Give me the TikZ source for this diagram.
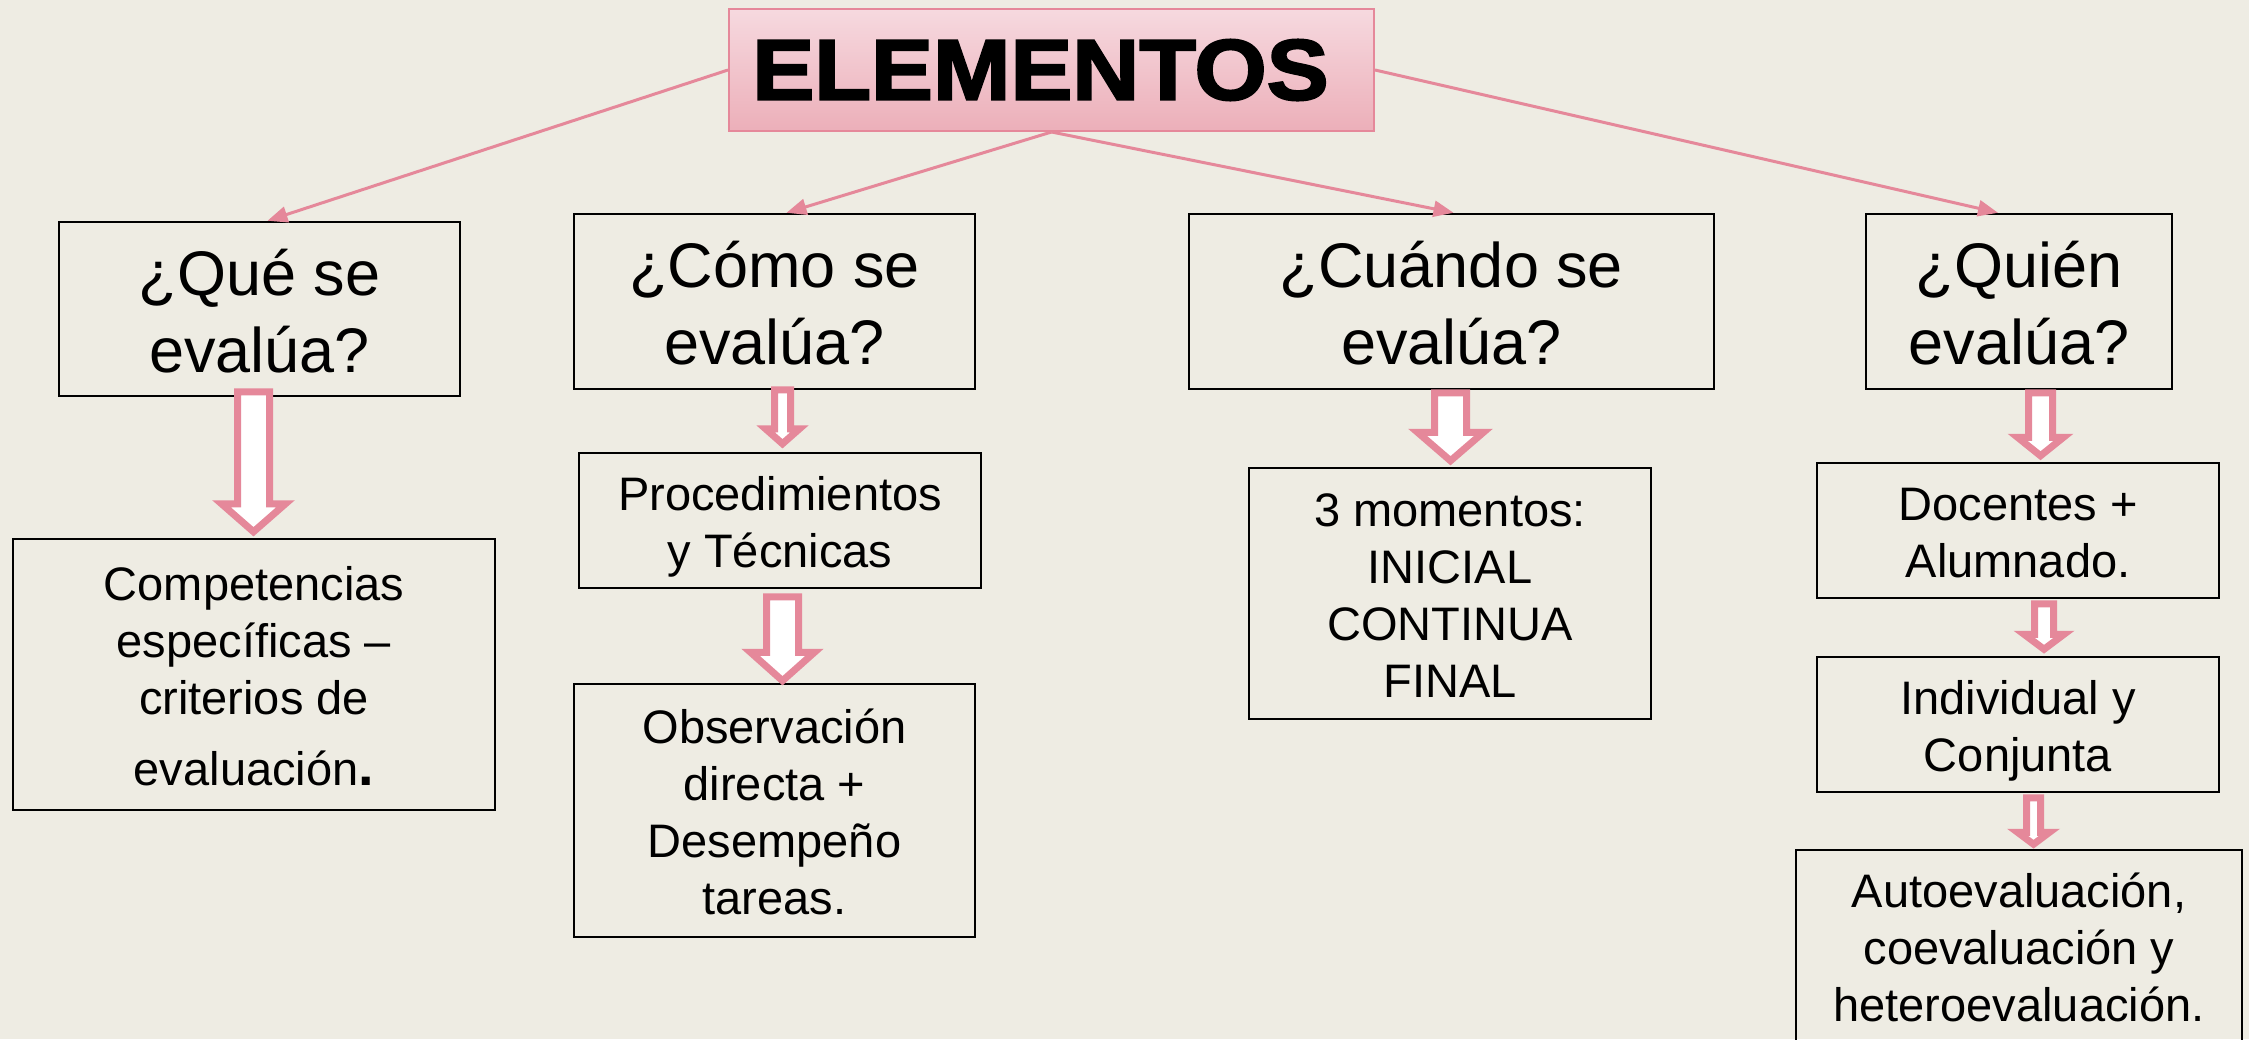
\documentclass[tikz,border=0pt]{standalone}
\usepackage{fontspec}
\setmainfont{Liberation Sans}
\newfontfamily\titlefont[FakeStretch=1.08,BoldFeatures={FakeBold=2.5}]{Liberation Sans}
\usetikzlibrary{arrows.meta,calc}
\definecolor{bg}{HTML}{EEECE3}
\definecolor{pk}{HTML}{E5889A}
\definecolor{pktop}{HTML}{F6D9DF}
\definecolor{pkbot}{HTML}{ECAFB9}
\newcommand\qS{\rule{0pt}{0.79em}}
\newcommand\tS{\rule{0pt}{1.0em}}
\newcommand\bS{\rule[-0.21em]{0pt}{0.21em}}
\tikzset{
  box/.style={draw=black, line width=2.5pt, inner sep=0pt, align=center, text=black},
  qbox/.style={box, font=\fontsize{63}{77}\selectfont},
  sbox/.style={box, font=\fontsize{47}{57}\selectfont},
  link/.style={draw=pk, line width=3pt, -{Triangle[length=20pt,width=16pt]}},
  blk/.style={draw=pk, fill=white, line width=7pt, line join=miter, miter limit=10},
}
% block arrow: from, to, centre x, shaft half width, head half width, head height, top offset, tip offset
\newcommand\barr[8]{%
  \draw[blk] let \p1=(#1.south), \p2=(#2.north) in
    ({#3pt-#4pt},{\y1-#7pt}) -- ({#3pt+#4pt},{\y1-#7pt})
    -- ({#3pt+#4pt},{\y2+#8pt+#6pt}) -- ({#3pt+#5pt},{\y2+#8pt+#6pt})
    -- ({#3pt},{\y2+#8pt})
    -- ({#3pt-#5pt},{\y2+#8pt+#6pt}) -- ({#3pt-#4pt},{\y2+#8pt+#6pt}) -- cycle;}
\begin{document}
\begin{tikzpicture}[x=1pt,y=-1pt]
\path[use as bounding box, fill=bg] (0,0) rectangle (2249,1039);

\node[draw=pk, line width=2pt, top color=pktop, bottom color=pkbot,
      minimum width=645pt, minimum height=122pt, inner sep=0pt] (title) at (1051.5,70)
      {\titlefont\bfseries\fontsize{86}{90}\selectfont ELEMENTOS\hspace*{22pt}};

\node[qbox, minimum width=401pt, minimum height=174pt] (q1) at (259.5,309) {\qS¿Qué se\\evalúa?};
\node[qbox, minimum width=401pt, minimum height=175pt] (q2) at (774.5,301.5) {\qS¿Cómo se\\evalúa?};
\node[qbox, minimum width=525pt, minimum height=175pt] (q3) at (1451.5,301.5) {\qS¿Cuándo se\\evalúa?};
\node[qbox, minimum width=306pt, minimum height=175pt] (q4) at (2019,301.5) {\qS¿Quién\\evalúa?};

\node[sbox, minimum width=482pt, minimum height=271pt] (comp) at (254,674.5)
  {\tS Competencias\\específicas –\\criterios de\\[14pt]evaluación{\fontsize{56}{57}\selectfont\bfseries .}\bS};
\node[sbox, minimum width=402pt, minimum height=135pt] (proc) at (780,520.5) {\tS Procedimientos\\y Técnicas\bS};
\node[sbox, minimum width=401pt, minimum height=253pt] (obs) at (774.5,810.5) {\tS Observación\\directa +\\Desempeño\\tareas.\bS};
\node[sbox, minimum width=402pt, minimum height=251pt] (mom) at (1450,593.5) {\tS 3 momentos:\\INICIAL\\CONTINUA\\FINAL\bS};
\node[sbox, minimum width=402pt, minimum height=135pt] (doc) at (2018,530.5) {\tS Docentes +\\Alumnado.\bS};
\node[sbox, minimum width=402pt, minimum height=135pt] (ind) at (2018,724.5) {\tS Individual y\\Conjunta\bS};
\node[sbox, minimum width=446pt, minimum height=210pt, text depth=15pt] (auto) at (2019,955)
  {Autoevaluación,\\coevaluación y\\heteroevaluación.};

\draw[link] (title.west) -- ([xshift=8pt]q1.north);
\draw[link] (title.south) -- ([xshift=12pt]q2.north);
\draw[link] (title.south) -- ([xshift=2pt]q3.north);
\draw[link] (title.east) -- ([xshift=-21pt]q4.north);

\barr{q1}{comp}{253.5}{16}{32}{28}{-5.5}{6}
\barr{q2}{proc}{782.5}{8}{17}{15}{-0.5}{8}
\barr{proc}{obs}{782.5}{16}{32}{28.5}{7.5}{2}
\barr{q3}{mom}{1450.5}{16}{33}{28.5}{2.5}{6}
\barr{q4}{doc}{2040.5}{12}{23}{18.5}{2.5}{6}
\barr{doc}{ind}{2044}{9.5}{20}{15}{4.5}{6.5}
\barr{ind}{auto}{2033.5}{7}{16}{12}{4.5}{4.5}
\end{tikzpicture}
\end{document}
